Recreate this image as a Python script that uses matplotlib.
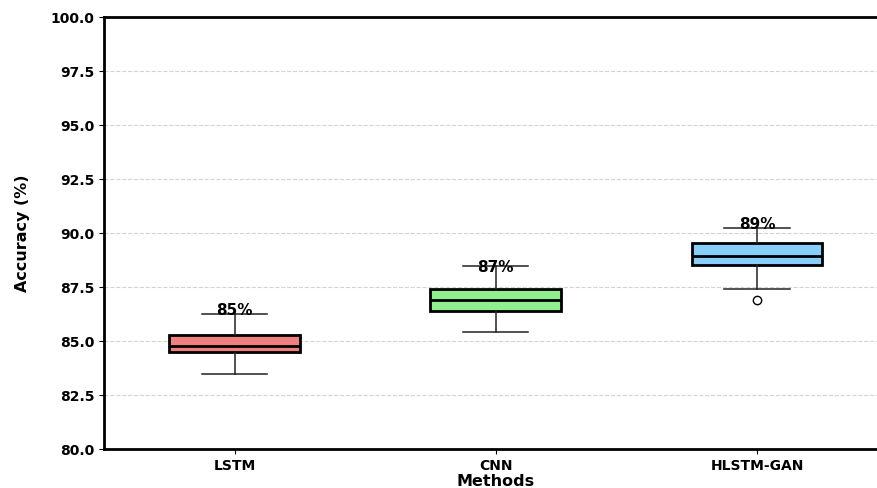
import matplotlib
matplotlib.use("Agg")
import matplotlib.pyplot as plt

# accuracy distributions per method (box statistics, %)
methods = ['LSTM', 'CNN', 'HLSTM-GAN']
whisker_low = [83.46, 85.43, 87.41]
q1 = [84.50, 86.40, 88.53]
medians = [84.78, 86.90, 88.95]
q3 = [85.28, 87.39, 89.55]
whisker_high = [86.24, 88.49, 90.22]
outliers = [[], [], [86.90]]
mean_acc = [85, 87, 89]
colors = ['#F08080', '#90EE90', '#87CEFA']

stats = []
for i, name in enumerate(methods):
    stats.append({
        'label': name,
        'whislo': whisker_low[i],
        'q1': q1[i],
        'med': medians[i],
        'q3': q3[i],
        'whishi': whisker_high[i],
        'fliers': outliers[i],
    })

fig = plt.figure(figsize=(8.77, 4.88), dpi=100)
ax = fig.add_axes([0.1186, 0.0799, 0.8934, 0.885])

bp = ax.bxp(stats, positions=[1, 2, 3], widths=0.5, patch_artist=True,
            boxprops=dict(linewidth=2, edgecolor='black'),
            medianprops=dict(color='black', linewidth=2),
            whiskerprops=dict(color='#222222', linewidth=1.1),
            capprops=dict(color='#222222', linewidth=1.1),
            flierprops=dict(marker='o', markerfacecolor='none',
                            markeredgecolor='black', markersize=6))
for patch, c in zip(bp['boxes'], colors):
    patch.set_facecolor(c)

# mean accuracy labels above each box
for i, m in enumerate(mean_acc):
    ax.text(i + 1, m + 1.4, f'{m}%', ha='center', va='center',
            fontsize=11, fontweight='bold', color='black')

ax.set_xlim(0.5, 3.5)
ax.set_ylim(80, 100)
ax.set_yticks([80, 82.5, 85, 87.5, 90, 92.5, 95, 97.5, 100])
ax.set_yticklabels([f'{v:.1f}' for v in ax.get_yticks()])
ax.grid(axis='y', linestyle='--', color='#d3d3d3', linewidth=0.8)
ax.set_axisbelow(True)

for s in ax.spines.values():
    s.set_linewidth(2)
    s.set_color('black')
ax.spines['right'].set_visible(False)

for lbl in ax.get_xticklabels() + ax.get_yticklabels():
    lbl.set_fontweight('bold')
    lbl.set_fontsize(10)

ax.set_xlabel('Methods', fontsize=11.5, fontweight='bold', va='center')
ax.xaxis.set_label_coords(0.5, -0.075)
ax.set_ylabel('Accuracy (%)', fontsize=11.5, fontweight='bold')
ax.yaxis.set_label_coords(-0.094, 0.5)

fig.savefig('out.png', dpi=100)
